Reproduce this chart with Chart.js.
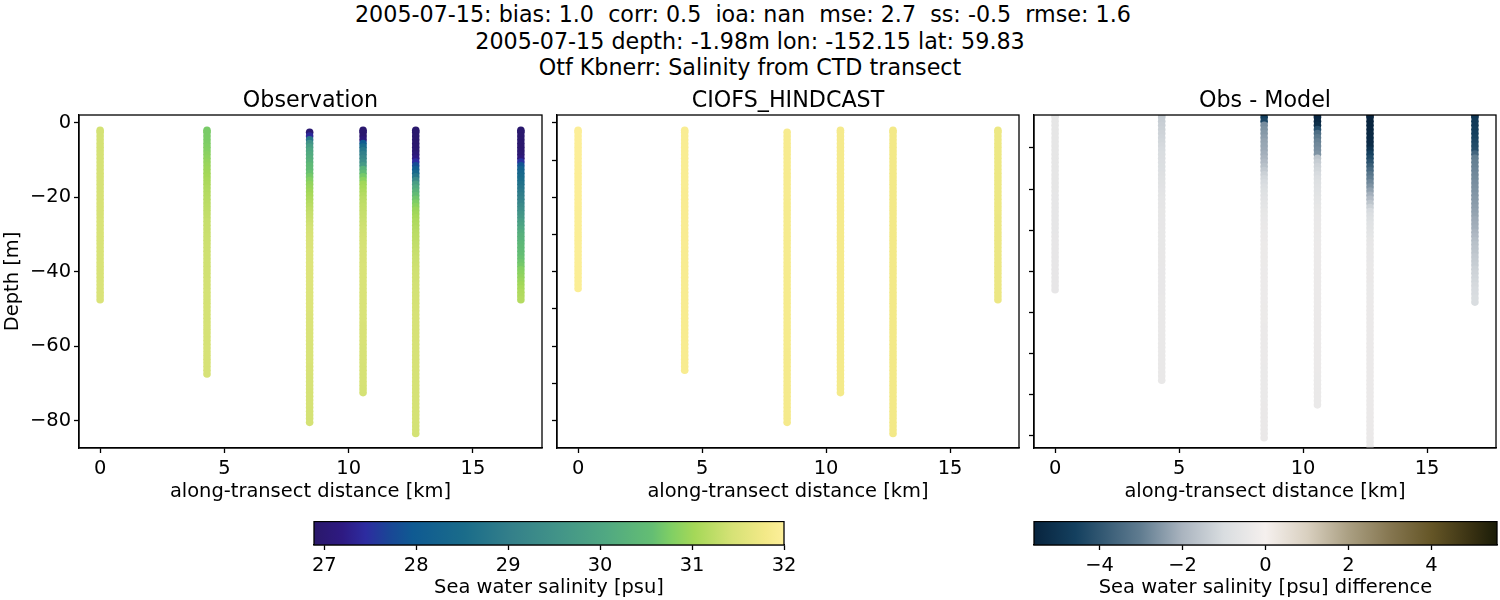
<!DOCTYPE html>
<html>
<head>
<meta charset="utf-8">
<title>Salinity from CTD transect</title>
<script src="https://cdn.jsdelivr.net/npm/chart.js@4"></script>
<style>
  html, body { margin: 0; padding: 0; background: #fff; overflow: hidden; }
  canvas { position: absolute; }
  .sup { position: absolute; left: 0; width: 1500px; text-align: center; white-space: pre;
         font: 22.22px "DejaVu Sans"; color: #000; line-height: 26px; }
</style>
</head>
<body>
<div class="sup" style="top:1px">2005-07-15: bias: 1.0  corr: 0.5  ioa: nan  mse: 2.7  ss: -0.5  rmse: 1.6  </div>
<div class="sup" style="top:28px">2005-07-15 depth: -1.98m lon: -152.15 lat: 59.83</div>
<div class="sup" style="top:54px">Otf Kbnerr: Salinity from CTD transect</div>

<canvas id="obs"></canvas>
<canvas id="model"></canvas>
<canvas id="diff"></canvas>
<canvas id="cbarSal"></canvas>
<canvas id="cbarDiff"></canvas>

<script>
// along-transect position of each CTD cast [km]
const stationKm = [0, 4.3, 8.43, 10.58, 12.7, 16.93];

// depth bins [m], shared by all casts
const depths = [-1.98,
  -2.5,-3.5,-4.5,-5.5,-6.5,-7.5,-8.5,-9.5,-10.5,
  -11.5,-12.5,-13.5,-14.5,-15.5,-16.5,-17.5,-18.5,-19.5,-20.5,
  -21.5,-22.5,-23.5,-24.5,-25.5,-26.5,-27.5,-28.5,-29.5,-30.5,
  -31.5,-32.5,-33.5,-34.5,-35.5,-36.5,-37.5,-38.5,-39.5,-40.5,
  -41.5,-42.5,-43.5,-44.5,-45.5,-46.5,-47.5,-48.5,-49.5,-50.5,
  -51.5,-52.5,-53.5,-54.5,-55.5,-56.5,-57.5,-58.5,-59.5,-60.5,
  -61.5,-62.5,-63.5,-64.5,-65.5,-66.5,-67.5,-68.5,-69.5,-70.5,
  -71.5,-72.5,-73.5,-74.5,-75.5,-76.5,-77.5,-78.5,-79.5,-80.5,
  -81.5,-82.5,-83.5];

const obs0 = [
  31.42,31.42,31.42,31.43,31.43,31.43,31.43,31.44,31.44,31.44,
  31.44,31.44,31.45,31.45,31.45,31.45,31.45,31.45,31.46,31.46,
  31.46,31.46,31.46,31.46,31.46,31.47,31.47,31.47,31.47,31.47,
  31.47,31.47,31.47,31.48,31.48,31.48,31.48,31.48,31.48,31.48,
  31.48,31.48,31.49,31.49,31.49,31.49,31.49];
const obs1 = [
  30.72,30.72,30.73,30.74,30.75,30.78,30.8,30.84,30.88,30.92,
  30.95,30.98,31.0,31.03,31.06,31.09,31.12,31.14,31.16,31.18,
  31.2,31.22,31.24,31.26,31.28,31.3,31.31,31.32,31.33,31.34,
  31.35,31.36,31.37,31.37,31.38,31.38,31.39,31.39,31.4,31.4,
  31.4,31.41,31.41,31.41,31.42,31.42,31.42,31.42,31.43,31.43,
  31.43,31.43,31.43,31.44,31.44,31.44,31.44,31.44,31.44,31.45,
  31.45,31.45,31.45,31.45,31.45,31.45,31.45];
const obs2 = [
  null,27.0,27.4,28.8,29.5,29.8,30.0,30.1,30.2,30.3,
  30.45,30.5,30.6,30.7,30.8,30.9,30.95,31.0,31.05,31.1,
  31.15,31.2,31.25,31.3,31.33,31.36,31.4,31.42,31.44,31.46,
  31.48,31.5,31.5,31.52,31.52,31.53,31.53,31.54,31.54,31.54,
  31.54,31.54,31.54,31.54,31.53,31.53,31.53,31.52,31.52,31.52,
  31.51,31.51,31.5,31.5,31.5,31.49,31.49,31.49,31.48,31.48,
  31.48,31.47,31.47,31.47,31.46,31.46,31.46,31.45,31.45,31.45,
  31.45,31.44,31.44,31.44,31.44,31.44,31.43,31.43,31.43,31.43];
const obs3 = [
  26.95,26.95,26.95,27.1,28.0,28.5,28.8,29.0,29.2,29.4,
  29.7,30.3,30.5,30.7,30.85,31.0,31.05,31.1,31.15,31.2,
  31.23,31.26,31.28,31.3,31.32,31.34,31.36,31.38,31.4,31.41,
  31.42,31.43,31.44,31.45,31.45,31.46,31.46,31.47,31.47,31.47,
  31.48,31.48,31.48,31.48,31.48,31.48,31.48,31.47,31.47,31.47,
  31.47,31.47,31.47,31.46,31.46,31.46,31.46,31.46,31.46,31.45,
  31.45,31.45,31.45,31.45,31.44,31.44,31.44,31.44,31.44,31.44,
  31.43,31.43];
const obs4 = [
  26.92,26.92,26.92,26.92,26.93,26.95,26.98,27.05,27.2,27.45,
  27.8,28.1,28.4,28.8,29.3,29.8,30.1,30.3,30.5,30.65,
  30.75,30.85,30.95,31.0,31.05,31.1,31.13,31.16,31.2,31.22,
  31.24,31.26,31.28,31.3,31.32,31.34,31.35,31.36,31.38,31.39,
  31.4,31.4,31.41,31.41,31.42,31.42,31.43,31.43,31.44,31.44,
  31.45,31.45,31.45,31.45,31.45,31.45,31.45,31.45,31.45,31.45,
  31.45,31.45,31.45,31.45,31.45,31.45,31.44,31.44,31.44,31.44,
  31.44,31.44,31.44,31.44,31.43,31.43,31.43,31.43,31.43,31.43,
  31.42,31.42,31.42];
const obs5 = [
  26.92,26.92,26.92,26.92,26.92,26.93,26.95,26.98,27.1,27.5,
  27.9,28.2,28.35,28.45,28.55,28.65,28.75,28.85,28.95,29.05,
  29.15,29.3,29.4,29.55,29.65,29.8,29.9,30.05,30.15,30.25,
  30.3,30.4,30.45,30.5,30.55,30.6,30.65,30.7,30.8,30.85,
  30.9,30.95,31.0,31.05,31.1,31.12,31.15];

// model salinity per cast, middle panel
const mod0 = [
  31.98,31.98,31.98,31.98,31.98,31.98,31.98,31.98,31.98,31.98,
  31.97,31.97,31.97,31.97,31.97,31.97,31.97,31.97,31.97,31.97,
  31.97,31.97,31.96,31.96,31.96,31.96,31.96,31.96,31.96,31.96,
  31.96,31.96,31.96,31.96,31.96,31.95,31.95,31.95,31.95,31.95,
  31.95,31.95,31.95,31.95];
const mod1 = [
  31.92,31.92,31.92,31.92,31.92,31.92,31.92,31.92,31.92,31.92,
  31.92,31.92,31.92,31.92,31.92,31.92,31.92,31.91,31.91,31.91,
  31.91,31.91,31.91,31.91,31.91,31.91,31.91,31.91,31.91,31.91,
  31.91,31.91,31.91,31.9,31.9,31.9,31.9,31.9,31.9,31.9,
  31.9,31.9,31.9,31.9,31.9,31.9,31.9,31.9,31.9,31.89,
  31.89,31.89,31.89,31.89,31.89,31.89,31.89,31.89,31.89,31.89,
  31.89,31.89,31.89,31.89,31.89,31.89];
const mod2 = [
  null,31.87,31.87,31.87,31.87,31.87,31.87,31.87,31.87,31.87,
  31.87,31.87,31.87,31.87,31.87,31.87,31.87,31.87,31.87,31.87,
  31.86,31.86,31.86,31.86,31.86,31.86,31.86,31.86,31.86,31.86,
  31.86,31.86,31.86,31.86,31.86,31.86,31.86,31.86,31.86,31.86,
  31.85,31.85,31.85,31.85,31.85,31.85,31.85,31.85,31.85,31.85,
  31.85,31.85,31.85,31.85,31.85,31.85,31.85,31.85,31.85,31.85,
  31.84,31.84,31.84,31.84,31.84,31.84,31.84,31.84,31.84,31.84,
  31.84,31.84,31.84,31.84,31.84,31.84,31.84,31.84,31.84,31.84];
const mod3 = [
  31.84,31.84,31.84,31.84,31.84,31.84,31.84,31.84,31.84,31.84,
  31.84,31.84,31.84,31.84,31.84,31.84,31.84,31.84,31.84,31.84,
  31.83,31.83,31.83,31.83,31.83,31.83,31.83,31.83,31.83,31.83,
  31.83,31.83,31.83,31.83,31.83,31.83,31.83,31.83,31.83,31.83,
  31.83,31.83,31.83,31.83,31.83,31.83,31.83,31.83,31.83,31.83,
  31.82,31.82,31.82,31.82,31.82,31.82,31.82,31.82,31.82,31.82,
  31.82,31.82,31.82,31.82,31.82,31.82,31.82,31.82,31.82,31.82,
  31.82,31.82];
const mod4 = [
  31.8,31.8,31.8,31.8,31.8,31.8,31.8,31.8,31.8,31.8,
  31.8,31.8,31.8,31.8,31.8,31.8,31.8,31.8,31.8,31.8,
  31.8,31.8,31.8,31.8,31.8,31.8,31.8,31.8,31.8,31.8,
  31.8,31.8,31.8,31.8,31.8,31.8,31.8,31.8,31.8,31.8,
  31.79,31.79,31.79,31.79,31.79,31.79,31.79,31.79,31.79,31.79,
  31.79,31.79,31.79,31.79,31.79,31.79,31.79,31.79,31.79,31.79,
  31.79,31.79,31.79,31.79,31.79,31.79,31.79,31.79,31.79,31.79,
  31.79,31.79,31.79,31.79,31.79,31.79,31.79,31.79,31.79,31.79,
  31.79,31.79,31.79];
const mod5 = [
  31.72,31.72,31.72,31.72,31.72,31.72,31.72,31.72,31.72,31.72,
  31.72,31.72,31.72,31.72,31.72,31.72,31.72,31.72,31.72,31.72,
  31.72,31.72,31.72,31.72,31.71,31.71,31.71,31.71,31.71,31.71,
  31.71,31.71,31.71,31.71,31.71,31.71,31.71,31.71,31.71,31.71,
  31.71,31.71,31.71,31.71,31.71,31.71,31.71];

// obs minus model per cast, right panel
const dif0 = [
  -0.55,-0.55,-0.55,-0.55,-0.55,-0.55,-0.55,-0.55,-0.55,-0.55,
  -0.54,-0.54,-0.54,-0.54,-0.54,-0.54,-0.54,-0.54,-0.54,-0.54,
  -0.53,-0.53,-0.53,-0.53,-0.53,-0.53,-0.53,-0.53,-0.53,-0.53,
  -0.52,-0.52,-0.52,-0.52,-0.52,-0.52,-0.52,-0.52,-0.52,-0.52,
  -0.52,-0.52,-0.52,-0.52];
const dif1 = [
  -1.45,-1.45,-1.4,-1.35,-1.3,-1.25,-1.2,-1.15,-1.1,-1.05,
  -1.0,-0.98,-0.95,-0.92,-0.88,-0.84,-0.8,-0.76,-0.72,-0.68,
  -0.64,-0.6,-0.58,-0.56,-0.55,-0.54,-0.53,-0.52,-0.51,-0.5,
  -0.5,-0.5,-0.49,-0.49,-0.48,-0.48,-0.47,-0.47,-0.46,-0.46,
  -0.46,-0.45,-0.45,-0.45,-0.45,-0.44,-0.44,-0.44,-0.44,-0.44,
  -0.43,-0.43,-0.43,-0.43,-0.43,-0.43,-0.42,-0.42,-0.42,-0.42,
  -0.42,-0.42,-0.42,-0.42,-0.42,-0.42];
const dif2 = [
  null,-4.6,-4.4,-2.7,-2.6,-2.5,-2.4,-2.3,-2.25,-2.2,
  -2.1,-2.0,-1.85,-1.7,-1.5,-1.3,-1.15,-1.05,-0.95,-0.85,
  -0.78,-0.72,-0.66,-0.6,-0.54,-0.5,-0.46,-0.42,-0.4,-0.38,
  -0.36,-0.35,-0.34,-0.34,-0.33,-0.33,-0.33,-0.33,-0.32,-0.32,
  -0.32,-0.32,-0.32,-0.32,-0.32,-0.32,-0.32,-0.33,-0.33,-0.33,
  -0.34,-0.34,-0.35,-0.35,-0.35,-0.36,-0.36,-0.36,-0.37,-0.37,
  -0.37,-0.37,-0.38,-0.38,-0.38,-0.38,-0.38,-0.39,-0.39,-0.39,
  -0.39,-0.4,-0.4,-0.4,-0.4,-0.4,-0.41,-0.41,-0.41,-0.41];
const dif3 = [
  -5.5,-5.5,-5.4,-5.2,-4.2,-3.4,-3.1,-2.9,-2.8,-2.7,
  -2.6,-1.6,-1.4,-1.25,-1.15,-1.05,-0.95,-0.85,-0.8,-0.75,
  -0.7,-0.65,-0.6,-0.55,-0.5,-0.48,-0.46,-0.44,-0.42,-0.4,
  -0.39,-0.38,-0.37,-0.36,-0.36,-0.35,-0.35,-0.35,-0.35,-0.35,
  -0.35,-0.35,-0.35,-0.35,-0.35,-0.35,-0.35,-0.36,-0.36,-0.36,
  -0.35,-0.35,-0.35,-0.36,-0.36,-0.36,-0.36,-0.36,-0.36,-0.37,
  -0.37,-0.37,-0.37,-0.37,-0.38,-0.38,-0.38,-0.38,-0.38,-0.38,
  -0.39,-0.39];
const dif4 = [
  -5.58,-5.58,-5.58,-5.55,-5.5,-5.45,-5.4,-5.35,-5.3,-5.0,
  -4.6,-4.35,-4.1,-3.8,-3.5,-3.2,-3.0,-2.8,-2.6,-2.35,
  -2.1,-1.85,-1.6,-1.3,-1.05,-0.95,-0.85,-0.75,-0.7,-0.65,
  -0.6,-0.55,-0.52,-0.5,-0.48,-0.46,-0.45,-0.44,-0.42,-0.41,
  -0.4,-0.4,-0.39,-0.39,-0.38,-0.38,-0.37,-0.37,-0.36,-0.36,
  -0.35,-0.35,-0.35,-0.35,-0.35,-0.35,-0.35,-0.35,-0.35,-0.35,
  -0.35,-0.35,-0.35,-0.35,-0.35,-0.35,-0.36,-0.36,-0.36,-0.36,
  -0.36,-0.36,-0.36,-0.36,-0.37,-0.37,-0.37,-0.37,-0.37,-0.37,
  -0.38,-0.38,-0.38];
const dif5 = [
  -4.9,-4.9,-4.8,-4.8,-4.7,-4.6,-4.5,-4.4,-4.3,-4.2,
  -3.6,-3.0,-2.95,-2.9,-2.85,-2.8,-2.75,-2.7,-2.65,-2.6,
  -2.55,-2.5,-2.45,-2.4,-2.35,-2.3,-2.2,-2.15,-2.1,-2.0,
  -1.9,-1.8,-1.7,-1.65,-1.6,-1.5,-1.45,-1.4,-1.3,-1.25,
  -1.2,-1.15,-1.1,-1.05,-1.05,-1.0,-1.0];

const obsCasts = [obs0, obs1, obs2, obs3, obs4, obs5];
const modCasts = [mod0, mod1, mod2, mod3, mod4, mod5];
const difCasts = [dif0, dif1, dif2, dif3, dif4, dif5];

// tick positions
const xTicks = [0, 5, 10, 15];
const yTicksLabelled = [0, -20, -40, -60, -80];
const yTicksMiddle = [0, -10, -20, -30, -40, -50, -60, -70, -80];
const yTicksRight = [-10, -20, -30, -40, -50, -60, -70, -80];
const salTicks = [27, 28, 29, 30, 31, 32];
const diffTicks = [-4, -2, 0, 2, 4];

// colour scales, [fraction, r, g, b]
const halineStops = [
  [0, 42, 24, 106], [0.06, 46, 26, 130], [0.11, 45, 44, 160], [0.16, 26, 70, 150],
  [0.21, 15, 90, 146], [0.32, 26, 108, 138], [0.42, 52, 128, 138], [0.52, 66, 148, 136],
  [0.62, 80, 168, 130], [0.72, 100, 190, 115], [0.76, 128, 207, 100], [0.81, 165, 216, 88],
  [0.89, 214, 226, 118], [0.96, 243, 233, 136], [1, 253, 239, 154]];
const diffStops = [
  [0, 8, 36, 62], [0.09, 20, 64, 95], [0.23, 96, 124, 144], [0.32, 170, 180, 191],
  [0.41, 217, 221, 224], [0.5, 245, 240, 238], [0.59, 217, 208, 192], [0.68, 170, 159, 130],
  [0.77, 133, 118, 80], [0.86, 100, 85, 38], [0.95, 54, 47, 17], [1, 26, 28, 8]];

const SAL_MIN = 26.888, SAL_MAX = 32, DIFF_MAX = 5.58;
const FONT = "DejaVu Sans";

function cmap(stops, f) {
  f = Math.min(1, Math.max(0, f));
  for (let i = 1; i < stops.length; i++) {
    if (f <= stops[i][0]) {
      const a = stops[i - 1], b = stops[i];
      const t = (f - a[0]) / (b[0] - a[0]);
      return `rgb(${a[1] + t * (b[1] - a[1])},${a[2] + t * (b[2] - a[2])},${a[3] + t * (b[3] - a[3])})`;
    }
  }
  return "#000";
}
const salColor = v => cmap(halineStops, (v - SAL_MIN) / (SAL_MAX - SAL_MIN));
const diffColor = v => cmap(diffStops, (v + DIFF_MAX) / (2 * DIFF_MAX));
const minus = v => String(v).replace("-", "\u2212");

// black box around the axes like the other spines
const frame = {
  id: "frame",
  afterDraw(chart) {
    const a = chart.chartArea, c = chart.ctx;
    c.save();
    c.strokeStyle = "#000";
    c.lineWidth = 1.3;
    c.strokeRect(a.left, a.top, a.right - a.left, a.bottom - a.top);
    c.restore();
  }
};

function setCanvas(id, left, top, w, h) {
  const el = document.getElementById(id);
  el.width = w; el.height = h;
  el.style.left = left + "px"; el.style.top = top + "px";
  el.style.width = w + "px"; el.style.height = h + "px";
  return el;
}

function panel(id, axLeft, axWidth, title, casts, color, yMin, yMax, yTicks, yLabels, yTitle) {
  const el = setCanvas(id, axLeft - 79, 0, 79 + axWidth + 3, 504);
  new Chart(el, {
    type: "scatter",
    data: {
      datasets: casts.map((vals, s) => ({
        data: vals.map((v, i) => ({ x: stationKm[s], y: depths[i], v })).filter(p => p.v !== null),
        pointRadius: 3.8,
        pointBorderWidth: 0,
        pointBackgroundColor: ctx => color(ctx.raw.v),
        clip: 0
      }))
    },
    options: {
      responsive: false,
      animation: false,
      events: [],
      devicePixelRatio: 1,
      layout: { padding: { right: 3 } },
      plugins: {
        legend: { display: false },
        tooltip: { enabled: false },
        title: {
          display: true, text: title, fullSize: false, color: "#000",
          font: { family: FONT, size: 22.22, weight: "normal", lineHeight: 1.2 },
          padding: { top: 88.34, bottom: 0 }
        }
      },
      scales: {
        x: {
          type: "linear", min: -0.85, max: 17.78,
          afterFit: s => { s.height = 56; },
          afterBuildTicks: s => { s.ticks = xTicks.map(value => ({ value })); },
          ticks: { color: "#000", font: { family: FONT, size: 19.44 }, padding: 4, maxRotation: 0, autoSkip: false },
          grid: { drawOnChartArea: false, tickLength: 5, tickColor: "#000", tickWidth: 1.3 },
          border: { color: "#000", width: 1.3 },
          title: { display: true, text: "along-transect distance [km]", color: "#000", font: { family: FONT, size: 19.44 }, padding: { top: 0, bottom: 0 } }
        },
        y: {
          type: "linear", min: yMin, max: yMax,
          afterFit: s => { s.width = 79; },
          afterBuildTicks: s => { s.ticks = yTicks.map(value => ({ value })); },
          ticks: {
            color: "#000", font: { family: FONT, size: 19.44 }, padding: 3, autoSkip: false,
            callback: v => yLabels ? minus(v) : ""
          },
          grid: { drawOnChartArea: false, tickLength: 5, tickColor: "#000", tickWidth: 1.3 },
          border: { color: "#000", width: 1.3 },
          title: { display: !!yTitle, text: yTitle, color: "#000", font: { family: FONT, size: 19.44 }, padding: { top: 1, bottom: 0 } }
        }
      }
    },
    plugins: [frame]
  });
}

function colorbar(id, axLeft, axWidth, label, lo, hi, ticks, stops) {
  const el = setCanvas(id, axLeft - 20, 521, axWidth + 40, 79);
  new Chart(el, {
    type: "bar",
    data: {
      labels: [""],
      datasets: [{
        data: [[lo, hi]],
        barPercentage: 1,
        categoryPercentage: 1,
        backgroundColor: ctx => {
          const a = ctx.chart.chartArea;
          if (!a) return "#888";
          const g = ctx.chart.ctx.createLinearGradient(a.left, 0, a.right, 0);
          stops.forEach(p => g.addColorStop(p[0], `rgb(${p[1]},${p[2]},${p[3]})`));
          return g;
        }
      }]
    },
    options: {
      indexAxis: "y",
      responsive: false,
      animation: false,
      events: [],
      devicePixelRatio: 1,
      layout: { padding: { left: 20, right: 20, top: 0.5 } },
      plugins: { legend: { display: false }, tooltip: { enabled: false } },
      scales: {
        x: {
          type: "linear", min: lo, max: hi,
          afterFit: s => { s.height = 55; },
          afterBuildTicks: s => { s.ticks = ticks.map(value => ({ value })); },
          ticks: { color: "#000", font: { family: FONT, size: 19.44 }, padding: 4, maxRotation: 0, autoSkip: false, callback: v => minus(v) },
          grid: { drawOnChartArea: false, tickLength: 5, tickColor: "#000", tickWidth: 1.3 },
          border: { color: "#000", width: 1.3 },
          title: { display: true, text: label, color: "#000", font: { family: FONT, size: 19.44 }, padding: { top: 0, bottom: 0 } }
        },
        y: { display: false }
      }
    },
    plugins: [frame]
  });
}

panel("obs", 79, 464, "Observation", obsCasts, salColor, -87.4, 2.15, yTicksLabelled, true, "Depth [m]");
panel("model", 557, 463, "CIOFS_HINDCAST", modCasts, salColor, -87.4, 2.15, yTicksMiddle, false, "");
panel("diff", 1034, 463, "Obs - Model", difCasts, diffColor, -83, -1.98, yTicksRight, false, "");
colorbar("cbarSal", 314, 470, "Sea water salinity [psu]", SAL_MIN, SAL_MAX, salTicks, halineStops);
colorbar("cbarDiff", 1034, 463, "Sea water salinity [psu] difference", -DIFF_MAX, DIFF_MAX, diffTicks, diffStops);
</script>
</body>
</html>
